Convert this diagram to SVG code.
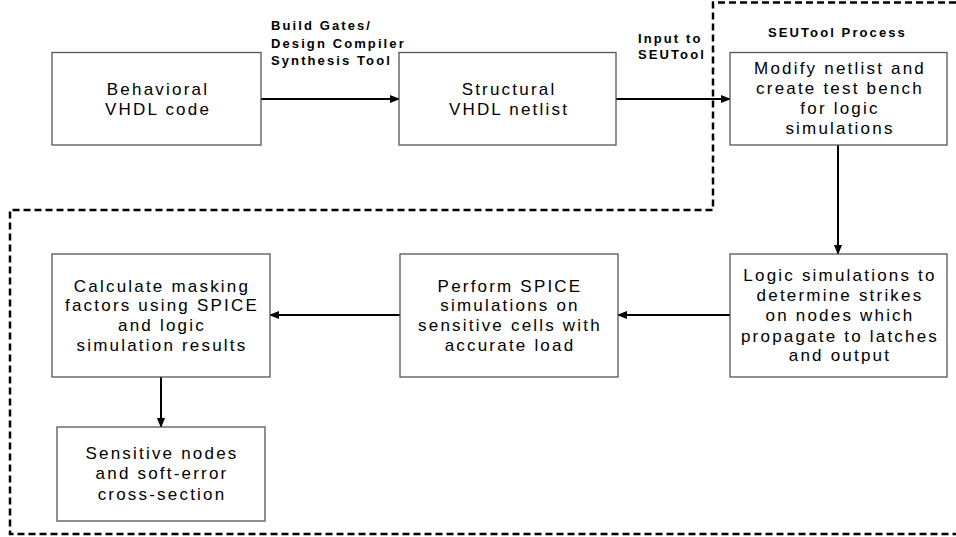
<svg xmlns="http://www.w3.org/2000/svg" width="956" height="537" viewBox="0 0 956 537">
<defs>
<style>
.box{fill:#fff;stroke:#555;stroke-width:1.3}
.t{font-family:"Liberation Sans",Arial,sans-serif;font-size:17px;letter-spacing:2.2px;text-anchor:middle;fill:#000}
.lb{font-family:"Liberation Sans",Arial,sans-serif;font-size:13px;font-weight:bold;letter-spacing:2.1px;fill:#000}
.c{stroke:#000;stroke-width:2;fill:none}
.dash{stroke:#000;stroke-width:2.5;fill:none;stroke-dasharray:7 4}
</style>
<marker id="ah" markerWidth="10" markerHeight="8" refX="9" refY="4" orient="auto" markerUnits="userSpaceOnUse">
<path d="M0,0 L10,4 L0,8 Z" fill="#000"/>
</marker>
</defs>
<rect width="956" height="537" fill="#fff"/>
<path class="dash" d="M956 2.5 H713 V210 H10 V534 H956"/>
<g id="connectors">
<line class="c" x1="261" y1="99" x2="399" y2="99" marker-end="url(#ah)"/>
<line class="c" x1="616" y1="99" x2="730" y2="99" marker-end="url(#ah)"/>
<line class="c" x1="838" y1="145" x2="838" y2="254" marker-end="url(#ah)"/>
<line class="c" x1="730" y1="315" x2="618" y2="315" marker-end="url(#ah)"/>
<line class="c" x1="400" y1="315" x2="270" y2="315" marker-end="url(#ah)"/>
<line class="c" x1="161" y1="377" x2="161" y2="427" marker-end="url(#ah)"/>
</g>
<g id="labels">
<text class="lb" x="271" y="30">Build Gates/</text>
<text class="lb" x="271" y="47.5">Design Compiler</text>
<text class="lb" x="271" y="65">Synthesis Tool</text>
<text class="lb" x="638" y="42.5">Input to</text>
<text class="lb" x="638" y="59">SEUTool</text>
<text class="lb" x="768" y="36.5">SEUTool Process</text>
</g>
<g id="behavioral">
<rect class="box" x="52" y="52.5" width="209" height="92.5"/>
<text class="t" x="158" y="95">Behavioral</text>
<text class="t" x="158" y="115">VHDL code</text>
</g>
<g id="structural">
<rect class="box" x="399" y="52.5" width="217" height="92.5"/>
<text class="t" x="509" y="95">Structural</text>
<text class="t" x="509" y="115">VHDL netlist</text>
</g>
<g id="modify">
<rect class="box" x="730" y="52.5" width="217" height="92.5"/>
<text class="t" x="840" y="74">Modify netlist and</text>
<text class="t" x="840" y="94">create test bench</text>
<text class="t" x="840" y="114">for logic</text>
<text class="t" x="840" y="134">simulations</text>
</g>
<g id="logic">
<rect class="box" x="730" y="254" width="217" height="123"/>
<text class="t" x="840" y="281">Logic simulations to</text>
<text class="t" x="840" y="301">determine strikes</text>
<text class="t" x="840" y="321">on nodes which</text>
<text class="t" x="840" y="341.5">propagate to latches</text>
<text class="t" x="840" y="361">and output</text>
</g>
<g id="spice">
<rect class="box" x="400" y="254" width="218" height="123"/>
<text class="t" x="510" y="291.5">Perform SPICE</text>
<text class="t" x="510" y="311">simulations on</text>
<text class="t" x="510" y="331">sensitive cells with</text>
<text class="t" x="510" y="350.5">accurate load</text>
</g>
<g id="calculate">
<rect class="box" x="52" y="254" width="218" height="123"/>
<text class="t" x="162" y="291.5">Calculate masking</text>
<text class="t" x="162" y="311">factors using SPICE</text>
<text class="t" x="162" y="331">and logic</text>
<text class="t" x="162" y="350.5">simulation results</text>
</g>
<g id="sensitive">
<rect class="box" x="57" y="427" width="208" height="94"/>
<text class="t" x="162" y="459">Sensitive nodes</text>
<text class="t" x="162" y="479">and soft-error</text>
<text class="t" x="162" y="500">cross-section</text>
</g>
</svg>
